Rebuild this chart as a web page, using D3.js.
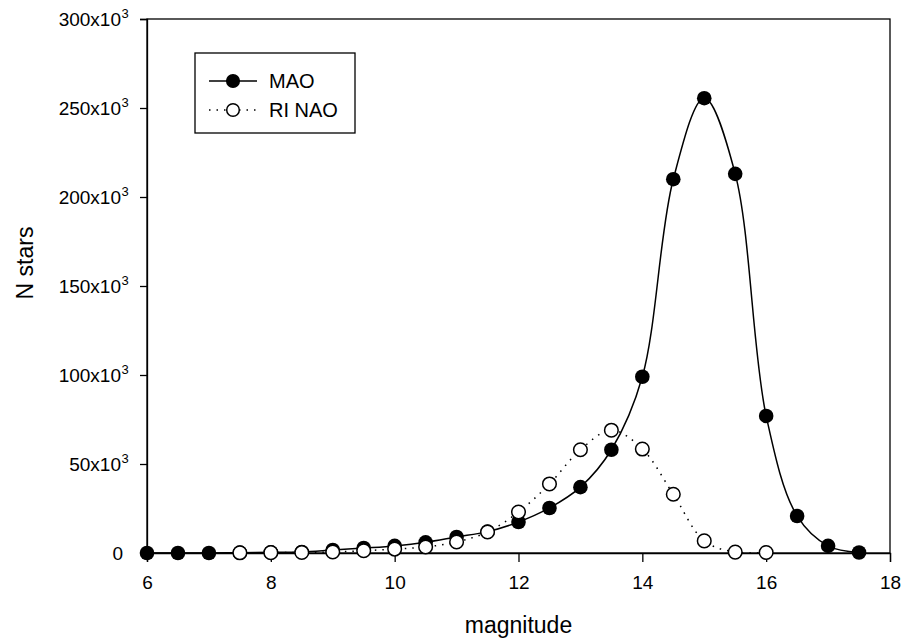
<!DOCTYPE html>
<html>
<head>
<meta charset="utf-8">
<script src="https://cdn.jsdelivr.net/npm/d3@7"></script>
<style>
  html, body { margin: 0; padding: 0; background: #fff; }
  svg { display: block; font-family: "Liberation Sans", Arial, sans-serif; }
</style>
</head>
<body>
<svg id="chart" width="904" height="642"></svg>
<script>
// ---- data ----
const maoMag = [6, 6.5, 7, 7.5, 8, 8.5, 9, 9.5, 10, 10.5, 11, 11.5, 12, 12.5, 13, 13.5, 14, 14.5, 15, 15.5, 16, 16.5, 17, 17.5];
const maoN   = [0, 0, 0, 0.2, 0.4, 0.6, 1.7, 2.8, 4, 6, 9, 12, 17.4, 25.3, 37, 58, 99, 210, 255.5, 213, 77, 20.8, 4, 0.3].map(v => v * 1000);
const nacMag = [7.5, 8, 8.5, 9, 9.5, 10, 10.5, 11, 11.5, 12, 12.5, 13, 13.5, 14, 14.5, 15, 15.5, 16];
const nacN   = [0.1, 0.2, 0.3, 0.6, 1.3, 2.2, 3.4, 6.2, 11.8, 23, 38.8, 58, 69, 58.4, 33, 6.8, 0.5, 0.3].map(v => v * 1000);
const xTicks = [6, 8, 10, 12, 14, 16, 18];
const yTicks = [0, 50, 100, 150, 200, 250, 300];
const seriesNames = ["MAO", "RI NAO"];

// ---- layout ----
const svg = d3.select("#chart");
const L = 147, R = 890, T = 19, B = 553;
const x = d3.scaleLinear().domain([6, 18]).range([L, R]);
const y = d3.scaleLinear().domain([0, 300000]).range([B, T]);

// frame
svg.append("rect").attr("x", L).attr("y", T).attr("width", R - L).attr("height", B - T)
  .attr("fill", "none").attr("stroke", "#000").attr("stroke-width", 1.3);

// x axis
const gx = svg.append("g").attr("transform", `translate(0,${B})`)
  .call(d3.axisBottom(x).tickValues(xTicks).tickSize(9).tickPadding(14).tickFormat(d3.format("d")));
gx.select(".domain").attr("stroke-width", 1.3);
gx.selectAll(".tick line").attr("stroke-width", 1.3);
gx.selectAll(".tick text").attr("font-size", 19).attr("font-family", "Liberation Sans, Arial, sans-serif").attr("fill", "#000");

// y axis
const gy = svg.append("g").attr("transform", `translate(${L},0)`)
  .call(d3.axisLeft(y).tickValues(yTicks.map(v => v * 1000)).tickSize(7).tickFormat(""));
gy.select(".domain").attr("stroke-width", 1.3);
gy.selectAll(".tick line").attr("stroke-width", 1.3);

yTicks.forEach(v => {
  const yy = y(v * 1000);
  if (v === 0) {
    svg.append("text").attr("x", 123).attr("y", yy + 7).attr("text-anchor", "end")
      .attr("font-size", 19).text("0");
  } else {
    svg.append("text").attr("x", 121).attr("y", yy + 7).attr("text-anchor", "end")
      .attr("font-size", 19).text(v + "x10");
    svg.append("text").attr("x", 121.5).attr("y", yy - 1).attr("text-anchor", "start")
      .attr("font-size", 13).text("3");
  }
});

// axis titles
svg.append("text").attr("x", (L + R) / 2).attr("y", 633).attr("text-anchor", "middle")
  .attr("font-size", 23).text("magnitude");
svg.append("text").attr("transform", "translate(33,263) rotate(-90)").attr("text-anchor", "middle")
  .attr("font-size", 23).text("N stars");

// series
const maoData = maoMag.map((m, i) => [m, maoN[i]]);
const nacData = nacMag.map((m, i) => [m, nacN[i]]);
const line = d3.line().x(d => x(d[0])).y(d => y(d[1])).curve(d3.curveCatmullRom.alpha(0.5));

svg.append("path").datum(maoData).attr("d", line).attr("fill", "none")
  .attr("stroke", "#000").attr("stroke-width", 1.5);
svg.append("g").selectAll("circle").data(maoData).join("circle")
  .attr("cx", d => x(d[0])).attr("cy", d => y(d[1])).attr("r", 7.3).attr("fill", "#000");

svg.append("path").datum(nacData).attr("d", line).attr("fill", "none")
  .attr("stroke", "#000").attr("stroke-width", 1.5).attr("stroke-dasharray", "1.5,6");
svg.append("g").selectAll("circle").data(nacData).join("circle")
  .attr("cx", d => x(d[0])).attr("cy", d => y(d[1])).attr("r", 6.8)
  .attr("fill", "#fff").attr("stroke", "#000").attr("stroke-width", 1.5);

// legend
const lg = svg.append("g");
lg.append("rect").attr("x", 195).attr("y", 53).attr("width", 160).attr("height", 80)
  .attr("fill", "#fff").attr("stroke", "#000").attr("stroke-width", 1.3);
const legY = [81, 110];
seriesNames.forEach((name, i) => {
  const ly = legY[i];
  lg.append("line").attr("x1", 209).attr("x2", 257).attr("y1", ly).attr("y2", ly)
    .attr("stroke", "#000").attr("stroke-width", 1.5)
    .attr("stroke-dasharray", i === 0 ? null : "1.5,6");
  lg.append("circle").attr("cx", 233).attr("cy", ly).attr("r", 6.3)
    .attr("fill", i === 0 ? "#000" : "#fff").attr("stroke", "#000").attr("stroke-width", 1.5);
  lg.append("text").attr("x", 269).attr("y", ly + 7).attr("font-size", 20).text(name);
});
</script>
</body>
</html>
